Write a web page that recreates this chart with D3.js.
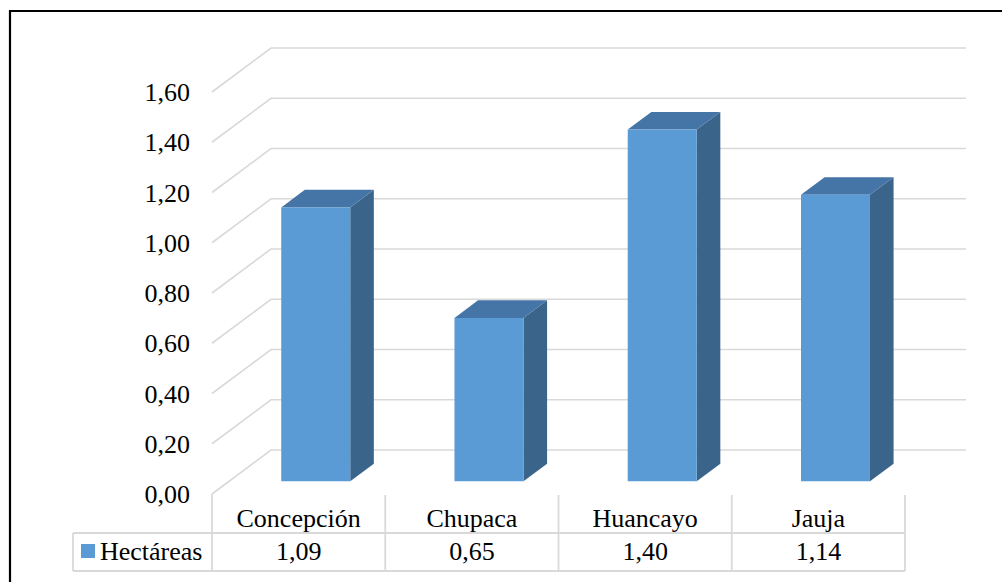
<!DOCTYPE html>
<html><head><meta charset="utf-8"><script src="https://cdn.jsdelivr.net/npm/d3@7"></script></head>
<body style="margin:0">
<svg id="chart" width="1002" height="582" style="display:block"></svg>
<script>
// Superficie (hectáreas) por provincia
const categories = ["Concepción", "Chupaca", "Huancayo", "Jauja"];
const hectareas = [1.09, 0.65, 1.40, 1.14];
const valueLabels = ["1,09", "0,65", "1,40", "1,14"];
const seriesName = "Hectáreas";
const yTicks = [0, 0.2, 0.4, 0.6, 0.8, 1.0, 1.2, 1.4, 1.6];

const fontStack = '"Times New Roman", "Liberation Serif", Tinos, serif';
const svg = d3.select("#chart");
const W = 1002, H = 582;

// 3D projection: depth z in [0,1] moves the point up-right
const DEPTH_X = 59, DEPTH_Y = 44;
const x = d3.scaleBand().domain(categories).range([212, 905]).paddingInner(0).paddingOuter(0);
const y = d3.scaleLinear().domain([0, 1.6]).range([494, 92]);
const proj = (px, v, z) => [px + z * DEPTH_X, y(v) - z * DEPTH_Y];

const fmt = v => d3.format(".2f")(v).replace(".", ",");
const grid = "#d9d9d9";

// shared text styling
const label = sel => sel
  .attr("fill", "#000")
  .attr("font-family", fontStack)
  .style("font-family", fontStack)
  .style("font-size", "26px");

// outer frame
svg.append("line").attr("x1", 9).attr("x2", W).attr("y1", 11).attr("y2", 11)
  .attr("stroke", "#000").attr("stroke-width", 2.2);
svg.append("line").attr("x1", 10).attr("x2", 10).attr("y1", 10).attr("y2", H)
  .attr("stroke", "#000").attr("stroke-width", 2.2);

// gridlines: floor diagonal on the side wall + back wall line
const gridG = svg.append("g");
yTicks.forEach(v => {
  const a = proj(x.range()[0], v, 0);
  const b = proj(x.range()[0], v, 1);
  const c = proj(x.range()[1] + 2, v, 1);
  gridG.append("polyline")
    .attr("points", [a, b, c].map(p => p.join(",")).join(" "))
    .attr("fill", "none").attr("stroke", grid).attr("stroke-width", 1.6);
});

// y tick labels
svg.selectAll("text.tick").data(yTicks).join("text")
  .attr("class", "tick")
  .attr("x", 190).attr("y", d => y(d) + 9)
  .attr("text-anchor", "end")
  .call(label)
  .text(d => fmt(d));

// bars
const barW = 69;
const z0 = 0.29, z1 = 0.69;
const colFront = "#5b9bd5", colTop = "#4575a6", colSide = "#3a6489";
const barsG = svg.append("g");
categories.forEach((c, i) => {
  const v = hectareas[i];
  const left = x(c) + (x.bandwidth() - barW) / 2;
  const right = left + barW;
  const fBL = proj(left, 0, z0), fBR = proj(right, 0, z0);
  const fTL = proj(left, v, z0), fTR = proj(right, v, z0);
  const bTL = proj(left, v, z1), bTR = proj(right, v, z1), bBR = proj(right, 0, z1);
  const poly = (pts, fill) => barsG.append("polygon")
    .attr("points", pts.map(p => p.join(",")).join(" ")).attr("fill", fill);
  poly([fBR, fTR, bTR, bBR], colSide);
  poly([fTL, fTR, bTR, bTL], colTop);
  poly([fBL, fTL, fTR, fBR], colFront);
});

// data table
const tableG = svg.append("g");
const rowTop = 495, rowMid = 533, rowBot = 571, legendLeft = 73;
const tl = (x1, y1, x2, y2) => tableG.append("line")
  .attr("x1", x1).attr("y1", y1).attr("x2", x2).attr("y2", y2)
  .attr("stroke", grid).attr("stroke-width", 1.8);
tl(legendLeft, rowMid, x.range()[1], rowMid);
tl(legendLeft, rowBot, x.range()[1], rowBot);
tl(legendLeft, rowMid, legendLeft, rowBot);
tl(x.range()[0], y(0), x.range()[0], rowBot);
categories.forEach((c, i) => {
  if (i > 0) tl(x(c), rowTop, x(c), rowBot);
});
tl(x.range()[1], rowTop, x.range()[1], rowBot);

svg.selectAll("text.cat").data(categories).join("text")
  .attr("class", "cat")
  .attr("x", d => x(d) + x.bandwidth() / 2).attr("y", 527)
  .attr("text-anchor", "middle")
  .call(label)
  .text(d => d);

svg.selectAll("text.val").data(valueLabels).join("text")
  .attr("class", "val")
  .attr("x", (d, i) => x(categories[i]) + x.bandwidth() / 2).attr("y", 560)
  .attr("text-anchor", "middle")
  .call(label)
  .text(d => d);

// legend key in the table
svg.append("rect").attr("x", 81).attr("y", 544).attr("width", 14).attr("height", 14)
  .attr("fill", colFront);
svg.append("text").attr("x", 100).attr("y", 560)
  .call(label)
  .text(seriesName);
</script>
</body></html>
